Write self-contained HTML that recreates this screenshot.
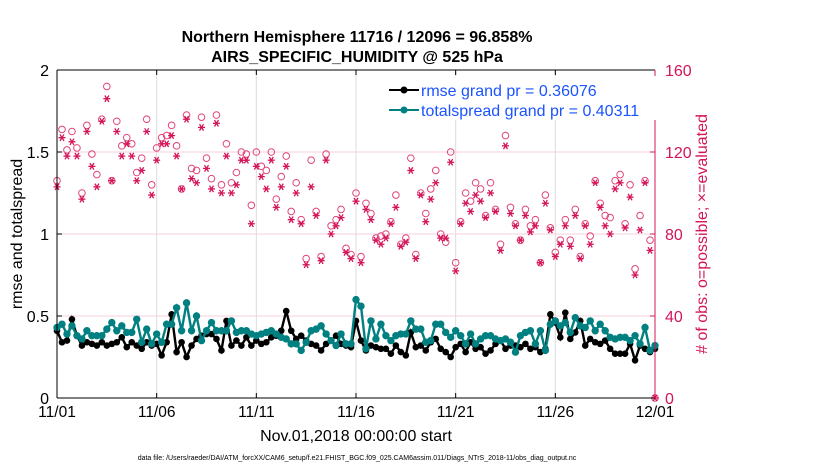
<!DOCTYPE html>
<html><head><meta charset="utf-8"><style>
body{margin:0;background:#fff;}
svg{display:block;font-family:"Liberation Sans",sans-serif;}
</style></head><body>
<svg id="chart" width="830" height="470">
<g id="grid"></g><g id="marks"></g><g id="axes"></g>
<text x="357" y="42" text-anchor="middle" font-size="16" font-weight="bold">Northern Hemisphere 11716 / 12096 = 96.858%</text>
<text x="357" y="62" text-anchor="middle" font-size="16" font-weight="bold">AIRS_SPECIFIC_HUMIDITY @ 525 hPa</text>
<text transform="translate(22,234) rotate(-90)" text-anchor="middle" font-size="16">rmse and totalspread</text>
<text transform="translate(707,234) rotate(-90)" text-anchor="middle" font-size="16" fill="#d4145a"># of obs: o=possible; ×=evaluated</text>
<text x="356" y="441" text-anchor="middle" font-size="16">Nov.01,2018 00:00:00 start</text>
<text x="357" y="460" text-anchor="middle" font-size="7">data file: /Users/raeder/DAI/ATM_forcXX/CAM6_setup/f.e21.FHIST_BGC.f09_025.CAM6assim.011/Diags_NTrS_2018-11/obs_diag_output.nc</text>
<g>
<rect x="385" y="76" width="285" height="44" fill="#fff"/>
<line x1="389" y1="90" x2="419" y2="90" stroke="#000" stroke-width="2"/><circle cx="404" cy="90" r="3.5" fill="#000"/>
<text x="421" y="96" font-size="16" fill="#1a53ff">rmse grand pr = 0.36076</text>
<line x1="389" y1="110" x2="419" y2="110" stroke="#008080" stroke-width="2"/><circle cx="404" cy="110" r="3.5" fill="#008080"/>
<text x="421" y="116" font-size="16" fill="#1a53ff">totalspread grand pr = 0.40311</text>
</g>
</svg>
<script>
const xTickLabels=["11/01","11/06","11/11","11/16","11/21","11/26","12/01"];
const xTickDays=[0,5,10,15,20,25,30];
const leftTicks=[0,0.5,1,1.5,2];
const rightTicks=[0,40,80,120,160];
const possible=[106,131,121,130,122,100,133,119,109,136,152,106,135,123,127,124,110,117,136,104,122,127,128,133,123,102,138,112,111,137,117,107,138,104,124,105,110,120,119,94,120,113,111,120,97,108,118,91,105,87,68,116,91,69,119,84,87,92,73,70,100,
69,95,90,78,79,80,86,99,75,78,117,70,100,90,102,111,80,76,120,66,86,100,96,105,102,89,105,92,75,128,93,85,77,92,84,87,66,99,83,71,77,87,77,92,69,85,79,106,95,89,88,106,109,85,104,63,89,106,77,0];
const evaluated=[103,127,118,125,118,97,130,113,103,135,146,106,130,118,124,118,106,111,130,99,116,124,124,128,118,102,136,107,105,132,112,102,134,100,118,100,104,116,116,85,113,108,102,116,93,103,113,87,100,85,65,103,89,67,116,80,84,88,71,68,96,
66,92,87,77,75,78,85,93,74,76,111,68,99,86,97,105,78,78,115,62,85,95,91,99,96,88,100,91,72,123,90,84,77,89,81,84,66,95,82,69,75,84,74,89,68,84,75,105,93,84,80,102,105,83,98,60,82,105,72,0];
const spread=[.43,.45,.39,.44,.38,.36,.41,.38,.38,.38,.42,.46,.41,.44,.40,.40,.48,.34,.42,.33,.39,.34,.45,.45,.55,.41,.58,.41,.50,.35,.41,.46,.41,.41,.41,.47,.40,.41,.41,.39,.38,.39,.40,.41,.39,.37,.36,.33,.33,.29,.34,.41,.42,.44,.39,.35,.32,.39,.33,.33,.60,
.56,.30,.47,.36,.45,.38,.35,.38,.39,.39,.47,.42,.42,.34,.35,.45,.45,.40,.37,.41,.38,.33,.39,.33,.36,.38,.38,.36,.35,.36,.34,.28,.38,.40,.41,.33,.41,.29,.45,.47,.44,.46,.40,.49,.44,.43,.47,.41,.45,.41,.37,.36,.37,.37,.35,.38,.33,.43,.29,.32];
const rmse=[.41,.34,.35,.48,.38,.32,.34,.33,.32,.34,.32,.33,.34,.37,.31,.34,.32,.30,.34,.32,.33,.26,.34,.51,.28,.34,.25,.32,.36,.38,.39,.39,.36,.29,.47,.32,.35,.32,.37,.32,.35,.33,.34,.37,.38,.41,.53,.41,.36,.38,.35,.33,.32,.29,.33,.35,.38,.33,.32,.31,.47,
.35,.29,.32,.31,.30,.30,.27,.32,.28,.26,.40,.31,.32,.29,.34,.36,.30,.28,.25,.31,.33,.28,.34,.30,.31,.27,.29,.33,.35,.30,.32,.32,.31,.33,.30,.31,.28,.30,.51,.46,.37,.52,.36,.40,.47,.32,.36,.34,.33,.35,.30,.27,.27,.27,.33,.23,.32,.30,.28,.30];
const X0=57,X1=655,Y0=398,Y1=70,NS="http://www.w3.org/2000/svg";
const xDay=d=>X0+(X1-X0)*d/30;
const xIdx=i=>xDay(i/4);
const yL=v=>Y0-(Y0-Y1)*v/2;
const yR=v=>Y0-(Y0-Y1)*v/160;
function mk(t,a,p){const e=document.createElementNS(NS,t);for(const k in a)e.setAttribute(k,a[k]);p.appendChild(e);return e;}
const grid=document.getElementById('grid'),marks=document.getElementById('marks'),axes=document.getElementById('axes');
xTickDays.forEach((d,k)=>{
 if(k>0&&k<xTickDays.length-1){const g=mk('line',{x1:xDay(d),x2:xDay(d),y1:Y1,y2:Y0,stroke:'#dcdcdc','stroke-width':1},grid);
 
 }
 mk('line',{x1:xDay(d),x2:xDay(d),y1:Y0,y2:Y0-5,stroke:'#000'},axes);
 mk('line',{x1:xDay(d),x2:xDay(d),y1:Y1,y2:Y1+5,stroke:'#000'},axes);
 const t=mk('text',{x:xDay(d),y:Y0+19,'text-anchor':'middle','font-size':15.5},axes);t.textContent=xTickLabels[k];
 
 
});
rightTicks.forEach(v=>{
 if(v>0&&v<160){const g=mk('line',{x1:X0,x2:X1,y1:yR(v),y2:yR(v),stroke:'#f7d0dc','stroke-width':1},grid);
 
 }
 mk('line',{x1:X1-5,x2:X1,y1:yR(v),y2:yR(v),stroke:'#d4145a'},axes);
 const t=mk('text',{x:X1+10,y:yR(v)+6,'font-size':16,fill:'#d4145a'},axes);t.textContent=v;
 
 
});
leftTicks.forEach(v=>{
 mk('line',{x1:X0,x2:X0+5,y1:yL(v),y2:yL(v),stroke:'#000'},axes);
 const t=mk('text',{x:X0-8,y:yL(v)+6,'text-anchor':'end','font-size':16},axes);t.textContent=v;
 
 
});
mk('line',{x1:X0,x2:X1,y1:Y1,y2:Y1,stroke:'#000'},axes);
mk('line',{x1:X0,x2:X1,y1:Y0,y2:Y0,stroke:'#000'},axes);
mk('line',{x1:X0,x2:X0,y1:Y1,y2:Y0,stroke:'#000'},axes);
mk('line',{x1:X1,x2:X1,y1:Y1,y2:Y0,stroke:'#d4145a'},axes);
possible.forEach((v,i)=>{
 const c=mk('circle',{cx:xIdx(i),cy:yR(v),r:3.3,fill:'none',stroke:'#e0457b','stroke-width':1},marks);
 
 
});
evaluated.forEach((v,i)=>{
 const x=xIdx(i),y=yR(v),g=mk('g',{stroke:'#d4145a','stroke-width':1.3},marks);
 
 
 mk('line',{x1:x-3.5,x2:x+3.5,y1:y,y2:y},g);
 mk('line',{x1:x-2,x2:x+2,y1:y-3.2,y2:y+3.2},g);
 mk('line',{x1:x+2,x2:x-2,y1:y-3.2,y2:y+3.2},g);
});
function series(arr,col,r,name){
 const p=mk('polyline',{points:arr.map((v,i)=>xIdx(i)+','+yL(v)).join(' '),fill:'none',stroke:col,'stroke-width':2.4},marks);
 
 
 arr.forEach((v,i)=>{const c=mk('circle',{cx:xIdx(i),cy:yL(v),r:r,fill:col},marks);
 
 });
}
series(rmse,'#000',3.3,'rmse');
series(spread,'#008080',3.7,'totalspread');
</script>
</body></html>
